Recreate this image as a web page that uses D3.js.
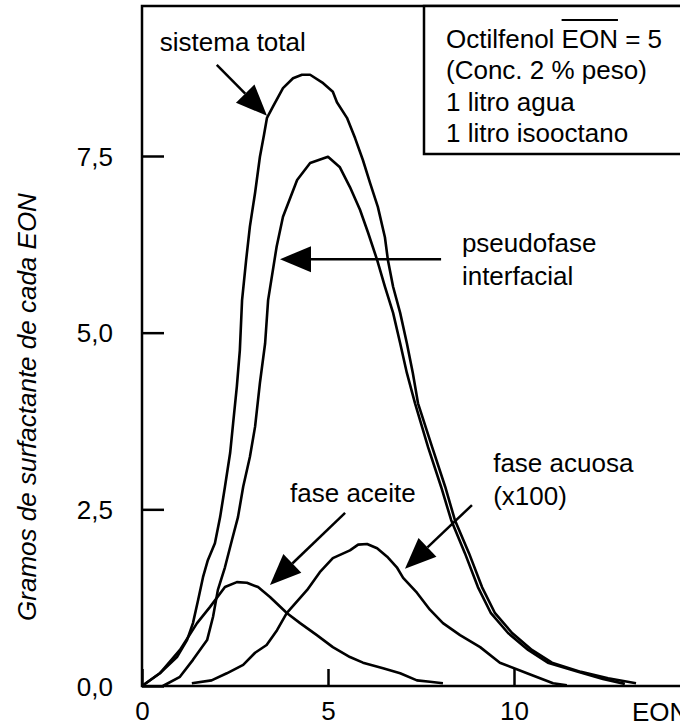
<!DOCTYPE html>
<html lang="es">
<head>
  <meta charset="UTF-8">
  <title>Distribución de surfactante</title>
  <script src="https://cdn.jsdelivr.net/npm/d3@7/dist/d3.min.js"></script>
  <style>
    body { margin: 0; background: #fff; }
    svg text { font-family: "Liberation Sans", Arial, Helvetica, sans-serif; font-size: 26px; fill: #000; }
  </style>
</head>
<body>
  <script>
    // Curves (EON, grams)
    const totalEon = [0, 0.48, 0.94, 1.21, 1.37, 1.51, 1.64, 1.77, 1.96, 2.10, 2.23, 2.37, 2.45, 2.55, 2.63, 2.69, 2.80, 2.90, 3.04, 3.17, 3.28, 3.36, 3.52, 3.79, 4.06, 4.30, 4.52, 4.87, 5.13, 5.24, 5.51, 5.73, 5.94, 6.13, 6.34, 6.53, 6.61, 6.75, 6.94, 7.12, 7.28, 7.42, 7.80, 8.15, 8.41, 8.79, 9.14, 9.49, 9.95, 10.48, 11.02, 11.80, 12.53, 13.28];
    const totalVal = [0, 0.18, 0.41, 0.65, 0.89, 1.22, 1.54, 1.78, 2.02, 2.39, 2.82, 3.30, 3.72, 4.24, 4.75, 5.46, 6.03, 6.50, 6.98, 7.49, 7.80, 8.04, 8.20, 8.46, 8.60, 8.65, 8.65, 8.53, 8.41, 8.26, 8.04, 7.75, 7.44, 7.12, 6.78, 6.35, 6.03, 5.65, 5.28, 4.85, 4.43, 4.00, 3.38, 2.82, 2.35, 1.88, 1.40, 1.03, 0.75, 0.51, 0.33, 0.20, 0.11, 0.04];

    const pseudoEon = [0.56, 1.02, 1.37, 1.75, 1.91, 2.04, 2.23, 2.42, 2.58, 2.72, 2.90, 3.04, 3.17, 3.31, 3.39, 3.62, 3.79, 4.17, 4.52, 5.00, 5.32, 5.59, 5.86, 6.08, 6.32, 6.53, 6.75, 6.94, 7.12, 7.34, 7.69, 8.04, 8.31, 8.68, 9.03, 9.38, 9.84, 10.38, 10.91, 11.72, 12.39, 12.98];
    const pseudoVal = [0, 0.13, 0.37, 0.65, 0.98, 1.36, 1.68, 2.07, 2.39, 2.82, 3.24, 3.67, 4.29, 4.85, 5.46, 6.22, 6.64, 7.16, 7.40, 7.49, 7.34, 7.06, 6.74, 6.41, 6.03, 5.65, 5.28, 4.85, 4.43, 4.00, 3.38, 2.82, 2.35, 1.88, 1.40, 1.03, 0.75, 0.51, 0.33, 0.20, 0.10, 0.03];

    const aceiteEon = [0, 0.48, 1.02, 1.48, 1.83, 2.23, 2.55, 2.82, 3.12, 3.44, 3.90, 4.25, 4.70, 5.13, 5.59, 5.94, 6.48, 6.94, 7.39, 7.74, 8.09];
    const aceiteVal = [0, 0.18, 0.51, 0.89, 1.12, 1.40, 1.47, 1.46, 1.40, 1.26, 1.03, 0.89, 0.72, 0.55, 0.41, 0.33, 0.25, 0.18, 0.08, 0.06, 0.04];

    const acuosaEon = [1.34, 1.87, 2.28, 2.72, 3.04, 3.35, 3.63, 3.89, 4.44, 4.78, 5.13, 5.59, 5.81, 6.05, 6.32, 6.59, 6.85, 7.02, 7.39, 7.74, 8.09, 8.55, 9.09, 9.62, 10.35, 11.05, 11.42];
    const acuosaVal = [0.04, 0.08, 0.18, 0.30, 0.47, 0.58, 0.79, 1.03, 1.36, 1.61, 1.81, 1.92, 2.00, 2.01, 1.95, 1.83, 1.68, 1.53, 1.32, 1.08, 0.89, 0.72, 0.55, 0.33, 0.18, 0.04, 0.01];

    const xTicks = [0, 5, 10];
    const yTicks = [0, 2.5, 5, 7.5];
    const legendLines = ["Octilfenol EON = 5", "(Conc. 2 % peso)", "1 litro agua", "1 litro isooctano"];

    // labels with arrows: text lines, text anchor, arrow from -> to (data units)
    const notes = [
      { lines: ["sistema total"], at: [0.48, 8.99], from: [2.01, 8.79], to: [3.36, 8.07] },
      { lines: ["pseudofase", "interfacial"], at: [8.60, 6.14], from: [8.04, 6.04], to: [3.71, 6.04] },
      { lines: ["fase aceite"], at: [3.98, 2.60], from: [5.46, 2.45], to: [3.44, 1.43] },
      { lines: ["fase acuosa", "(x100)"], at: [9.44, 3.03], from: [8.87, 2.56], to: [7.07, 1.66] }
    ];

    const W = 680, H = 726;
    const svg = d3.select("body").append("svg").attr("width", W).attr("height", H);

    const x = d3.scaleLinear().domain([0, 10]).range([142, 514]);
    const y = d3.scaleLinear().domain([0, 7.5]).range([686, 156]);
    const plotTop = 6, plotRight = 700;

    // frame
    svg.append("rect")
      .attr("x", x(0)).attr("y", plotTop)
      .attr("width", plotRight - x(0)).attr("height", y(0) - plotTop)
      .attr("fill", "none").attr("stroke", "#000").attr("stroke-width", 2.5);

    // axes
    const comma = d => d3.format(".1f")(d).replace(".", ",");
    const yAxis = svg.append("g").attr("transform", `translate(${x(0)},0)`)
      .call(d3.axisLeft(y).tickValues(yTicks).tickFormat(comma).tickSize(-22).tickSizeOuter(0).tickPadding(29));
    yAxis.select(".domain").remove();
    yAxis.selectAll("line").attr("stroke-width", 2.5);
    yAxis.selectAll("text").attr("font-size", null).attr("dy", "0.35em");

    const xAxis = svg.append("g").attr("transform", `translate(0,${y(0)})`)
      .call(d3.axisBottom(x).tickValues(xTicks).tickFormat(d3.format("d")).tickSize(-17).tickSizeOuter(0).tickPadding(16));
    xAxis.select(".domain").remove();
    xAxis.selectAll("line").attr("stroke-width", 2.5);
    xAxis.selectAll("text").attr("font-size", null);

    svg.append("text").attr("x", 632).attr("y", 721).text("EON");

    svg.append("text")
      .attr("transform", `translate(36,407) rotate(-90)`)
      .attr("text-anchor", "middle")
      .style("font-style", "italic")
      .text("Gramos de surfactante de cada EON");

    // curves
    const line = d3.line().x(d => x(d[0])).y(d => y(d[1]));
    const series = [
      d3.zip(totalEon, totalVal),
      d3.zip(pseudoEon, pseudoVal),
      d3.zip(aceiteEon, aceiteVal),
      d3.zip(acuosaEon, acuosaVal)
    ];
    svg.append("g").selectAll("path").data(series).join("path")
      .attr("d", line)
      .attr("fill", "none").attr("stroke", "#000")
      .attr("stroke-width", 2.6).attr("stroke-linejoin", "round");

    // annotations
    const headLen = 31, headW = 26;
    notes.forEach(n => {
      const x0 = x(n.from[0]), y0 = y(n.from[1]), x1 = x(n.to[0]), y1 = y(n.to[1]);
      const len = Math.hypot(x1 - x0, y1 - y0);
      const ux = (x1 - x0) / len, uy = (y1 - y0) / len;
      const bx = x1 - ux * headLen, by = y1 - uy * headLen;
      svg.append("line")
        .attr("x1", x0).attr("y1", y0).attr("x2", bx).attr("y2", by)
        .attr("stroke", "#000").attr("stroke-width", 2.5);
      svg.append("polygon")
        .attr("points", [[x1, y1], [bx - uy * headW / 2, by + ux * headW / 2], [bx + uy * headW / 2, by - ux * headW / 2]].join(" "))
        .attr("fill", "#000");
      const t = svg.append("text").attr("x", x(n.at[0])).attr("y", y(n.at[1]));
      n.lines.forEach((s, i) => t.append("tspan").attr("x", x(n.at[0])).attr("dy", i ? 33 : 0).text(s));
    });

    // legend box
    svg.append("rect")
      .attr("x", 424).attr("y", plotTop)
      .attr("width", plotRight - 424).attr("height", 154 - plotTop)
      .attr("fill", "#fff").attr("stroke", "#000").attr("stroke-width", 2.5);
    const lg = svg.append("text").attr("x", 446).attr("y", 47.5);
    legendLines.forEach((s, i) => lg.append("tspan").attr("x", 446).attr("dy", i ? 31.5 : 0).text(s));
    // overline above EON in the first line
    const first = lg.select("tspan").node();
    const i0 = legendLines[0].indexOf("EON");
    const ox0 = first.getStartPositionOfChar(i0).x, ox1 = first.getEndPositionOfChar(i0 + 2).x;
    svg.append("line").attr("x1", ox0).attr("x2", ox1).attr("y1", 20).attr("y2", 20)
      .attr("stroke", "#000").attr("stroke-width", 2);
  </script>
</body>
</html>
